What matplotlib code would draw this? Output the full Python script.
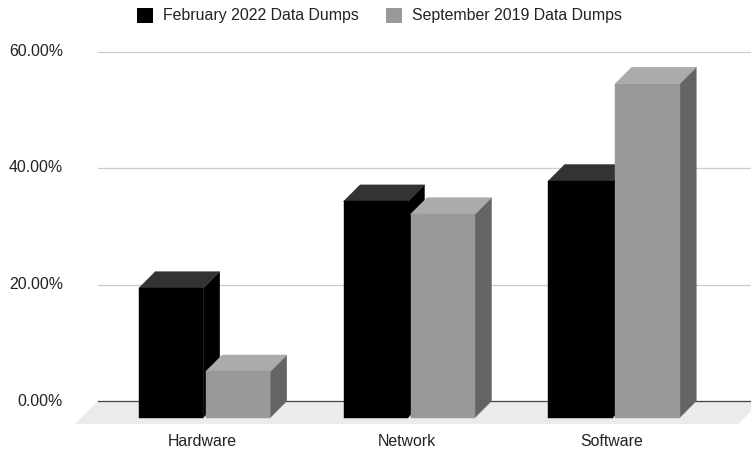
import matplotlib
matplotlib.use('Agg')
import matplotlib.pyplot as plt
from matplotlib.patches import Polygon, Rectangle

plt.rcParams['font.family'] = ['Liberation Sans', 'DejaVu Sans']

# ---- data ----
categories = ['Hardware', 'Network', 'Software']
series_names = ['February 2022 Data Dumps', 'September 2019 Data Dumps']
feb_2022 = [22.2, 37.1, 40.6]
sep_2019 = [7.9, 34.9, 57.3]
y_ticks = [0, 20, 40, 60]
y_tick_labels = ['0.00%', '20.00%', '40.00%', '60.00%']

# ---- styling / geometry ----
W, H = 751, 453
PX_Y = 5.825    # pixels per percent
PX_X = 204.75   # pixels per category
X0_PX = 204.5   # pixel x of category 0
Y0_PX = 401.0   # pixel y of value 0
FS = 11.4

front_cols = ['#000000', '#999999']
top_cols = ['#333333', '#ababab']
side_cols = ['#000000', '#646464']

fig = plt.figure(figsize=(W / 100, H / 100), dpi=100)
ax = fig.add_axes([0, 0, 1, 1])
xmin, xmax = -X0_PX / PX_X, (W - X0_PX) / PX_X
ax.set_xlim(xmin, xmax)
ax.set_ylim(-(H - Y0_PX) / PX_Y, Y0_PX / PX_Y)
ax.axis('off')


def px2x(p):
    return (p - X0_PX) / PX_X


def px2v(p):
    return (Y0_PX - p) / PX_Y


# gridlines
for t in y_ticks[1:]:
    ax.plot([px2x(98), xmax], [t, t], color='#cccccc', lw=0.9, zorder=1)

# floor
fd = 23 / PX_Y
floor = Polygon([(px2x(98), 0), (px2x(761), 0), (px2x(738), -fd), (px2x(75), -fd)],
                closed=True, facecolor='#ebebeb', edgecolor='none', zorder=1)
ax.add_patch(floor)
ax.plot([px2x(98), xmax], [0, 0], color='#444444', lw=0.9, zorder=2)

# bars
dx = 16.5 / PX_X
dd = 16.5 / PX_Y
w = 64.5 / PX_X
gap = 2.5 / PX_X
z = 3
for i in range(len(categories)):
    for s, vals in enumerate([feb_2022, sep_2019]):
        v = vals[i]
        if s == 0:
            xl, xr = i - gap / 2 - w, i - gap / 2
        else:
            xl, xr = i + gap / 2, i + gap / 2 + w
        side = Polygon([(xr, -dd), (xr, v - dd), (xr + dx, v), (xr + dx, 0)], closed=True,
                       facecolor=side_cols[s], edgecolor=side_cols[s], lw=0.3, zorder=z)
        top = Polygon([(xl, v - dd), (xr, v - dd), (xr + dx, v), (xl + dx, v)], closed=True,
                      facecolor=top_cols[s], edgecolor=top_cols[s], lw=0.3, zorder=z)
        front = Rectangle((xl, -dd), xr - xl, v, facecolor=front_cols[s],
                          edgecolor=front_cols[s], lw=0.3, zorder=z + 0.5)
        ax.add_patch(side)
        ax.add_patch(top)
        ax.add_patch(front)
        z += 1

# y tick labels
for t, lab in zip(y_ticks, y_tick_labels):
    ax.text(px2x(63), t, lab, ha='right', va='center', fontsize=FS, color='#222222')

# category labels
for i, c in enumerate(categories):
    ax.text(i - 0.01, px2v(441.5), c, ha='center', va='center', fontsize=FS, color='#222222')

# legend
leg_sq_x = [137, 386]
leg_tx_x = [163, 412]
for s in range(2):
    ax.add_patch(Rectangle((px2x(leg_sq_x[s]), px2v(23.3)), 15.5 / PX_X, 15 / PX_Y,
                           facecolor=front_cols[s], edgecolor='none', zorder=5))
    ax.text(px2x(leg_tx_x[s]), px2v(15.8), series_names[s], ha='left', va='center',
            fontsize=FS, color='#222222')

fig.savefig('out.png', dpi=100)
